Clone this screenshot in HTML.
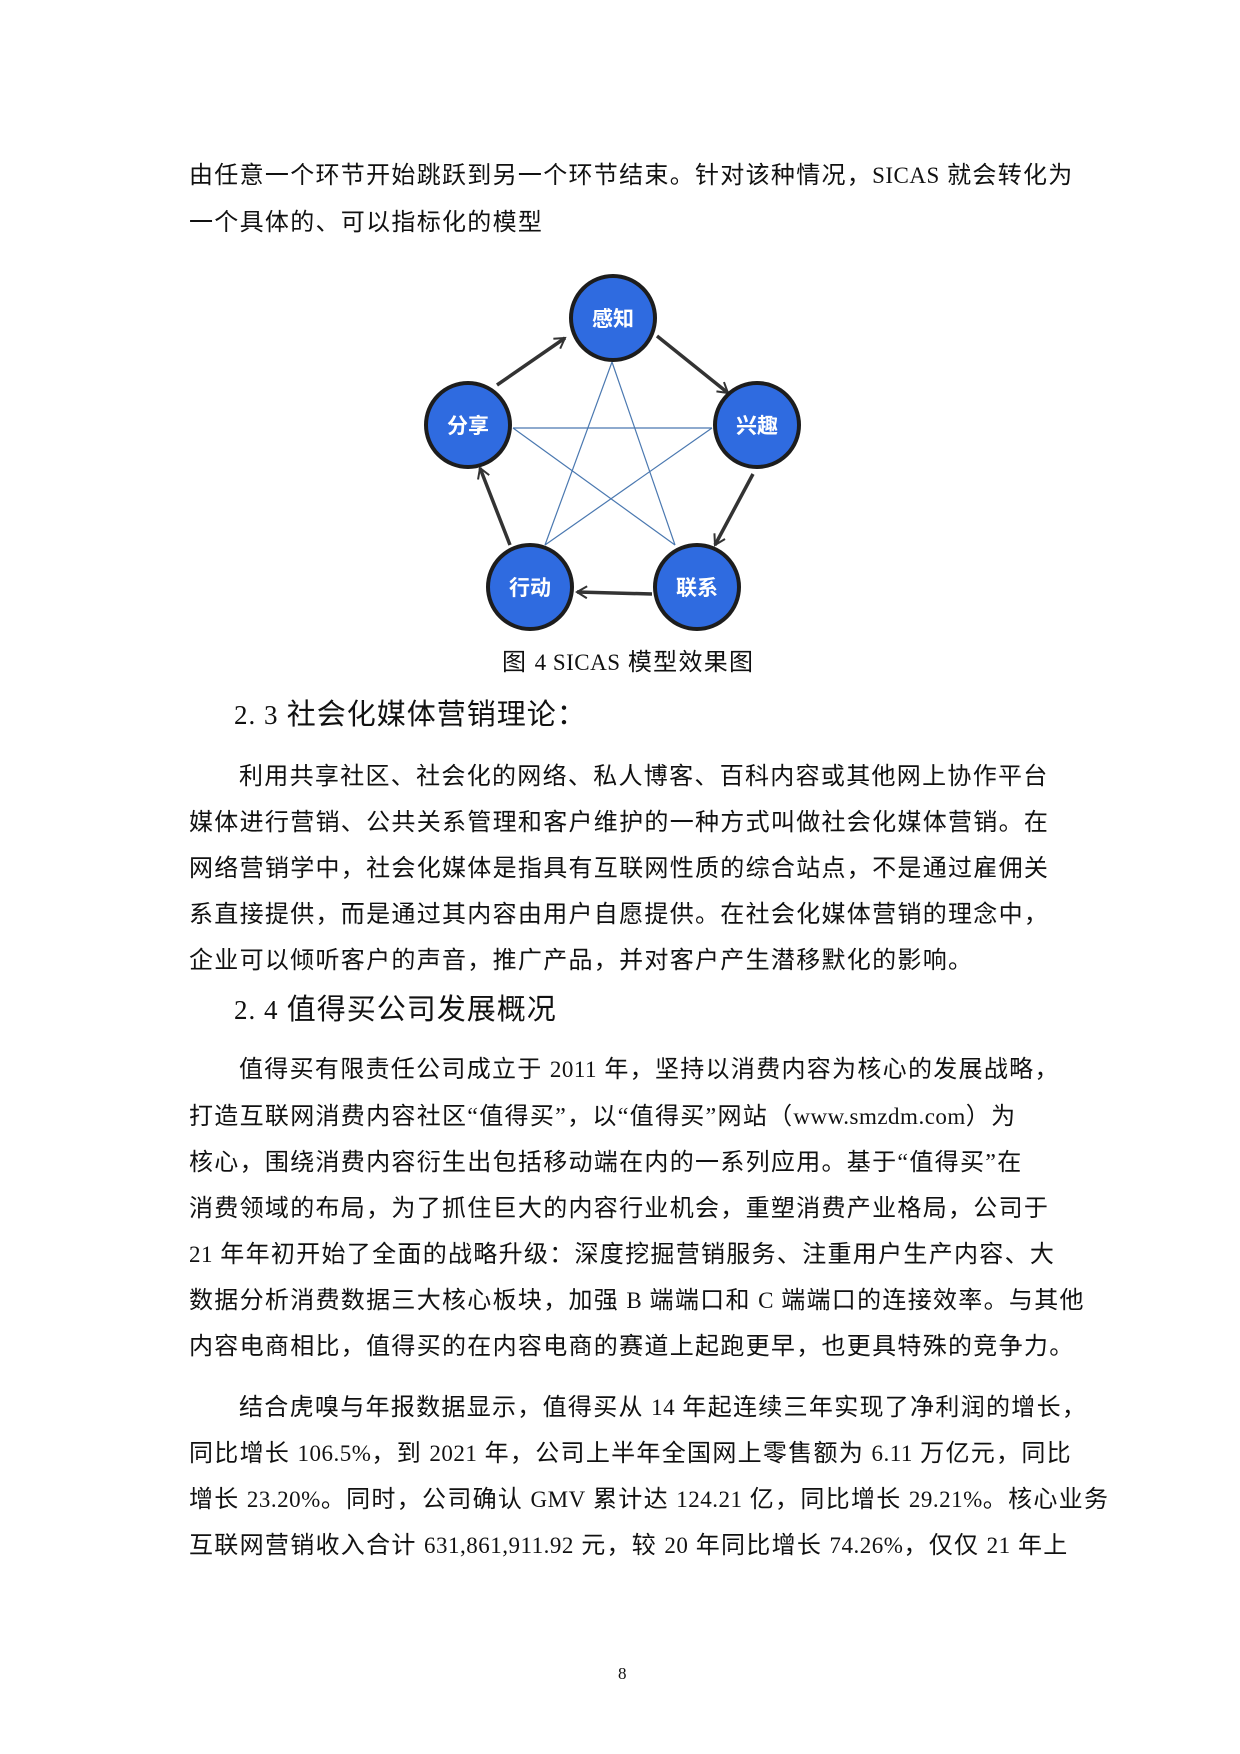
<!DOCTYPE html>
<html><head><meta charset="utf-8"><style>
body{margin:0;background:#fff;}
.pg{position:relative;width:1240px;height:1754px;background:#fff;overflow:hidden;font-family:"Liberation Serif","Noto Sans CJK SC",sans-serif;color:#111;}
.l{position:absolute;left:189px;font-size:24px;line-height:24px;white-space:nowrap;letter-spacing:1.3px;}
.h{position:absolute;left:234px;font-size:29px;line-height:30px;white-space:nowrap;letter-spacing:1px;}
.n{font-size:23px;letter-spacing:0.5px;}
</style></head><body><div class="pg">
<div class="l" style="top:164px">由任意一个环节开始跳跃到另一个环节结束。针对该种情况，<span class="n">SICAS</span> 就会转化为</div>
<div class="l" style="top:211px">一个具体的、可以指标化的模型</div>

<svg style="position:absolute;left:0;top:0" width="1240" height="700">
<defs><marker id="a" markerWidth="14" markerHeight="14" refX="11" refY="7" orient="auto" markerUnits="userSpaceOnUse"><path d="M1,1 L11,7 L1,13" fill="none" stroke="#333" stroke-width="2"/></marker></defs>
<g stroke="#4a78b0" stroke-width="1.2">
<line x1="612" y1="362" x2="545" y2="545"/><line x1="612" y1="362" x2="675" y2="545"/>
<line x1="513" y1="428" x2="712" y2="428"/><line x1="513" y1="428" x2="675" y2="545"/>
<line x1="712" y1="428" x2="545" y2="545"/>
</g>
<g stroke="#333" stroke-width="3.5" fill="none" marker-end="url(#a)">
<line x1="497" y1="385" x2="565" y2="338"/>
<line x1="657" y1="336" x2="728" y2="393"/>
<line x1="753" y1="474" x2="715" y2="545"/>
<line x1="652" y1="594" x2="577" y2="592"/>
<line x1="510" y1="545" x2="480" y2="468"/>
</g>
<g fill="#2f6be0" stroke="#1d1d1d" stroke-width="4">
<circle cx="613" cy="318" r="42"/><circle cx="757" cy="425" r="42"/><circle cx="468" cy="425" r="42"/>
<circle cx="530" cy="587" r="42"/><circle cx="697" cy="587" r="42"/>
</g>
<g fill="#fff" font-family="Noto Sans CJK SC,sans-serif" font-weight="bold" font-size="21" text-anchor="middle">
<text x="613" y="326">感知</text><text x="757" y="433">兴趣</text><text x="468" y="433">分享</text>
<text x="530" y="595">行动</text><text x="697" y="595">联系</text>
</g>
</svg>
<div class="l" style="top:651px;left:502px">图 <span class="n">4 SICAS</span> 模型效果图</div>

<div class="h" style="top:700px"><span style="font-size:27px">2. 3</span> 社会化媒体营销理论：</div>
<div class="l" style="top:765px;left:239px">利用共享社区、社会化的网络、私人博客、百科内容或其他网上协作平台</div>
<div class="l" style="top:811px">媒体进行营销、公共关系管理和客户维护的一种方式叫做社会化媒体营销。在</div>
<div class="l" style="top:857px">网络营销学中，社会化媒体是指具有互联网性质的综合站点，不是通过雇佣关</div>
<div class="l" style="top:903px">系直接提供，而是通过其内容由用户自愿提供。在社会化媒体营销的理念中，</div>
<div class="l" style="top:949px">企业可以倾听客户的声音，推广产品，并对客户产生潜移默化的影响。</div>
<div class="h" style="top:995px"><span style="font-size:27px">2. 4</span> 值得买公司发展概况</div>
<div class="l" style="top:1058px;left:239px">值得买有限责任公司成立于 <span class="n">2011</span> 年，坚持以消费内容为核心的发展战略，</div>
<div class="l" style="top:1105px">打造互联网消费内容社区“值得买”，以“值得买”网站（<span class="n">www.smzdm.com</span>）为</div>
<div class="l" style="top:1151px">核心，围绕消费内容衍生出包括移动端在内的一系列应用。基于“值得买”在</div>
<div class="l" style="top:1197px">消费领域的布局，为了抓住巨大的内容行业机会，重塑消费产业格局，公司于</div>
<div class="l" style="top:1243px"><span class="n">21</span> 年年初开始了全面的战略升级：深度挖掘营销服务、注重用户生产内容、大</div>
<div class="l" style="top:1289px">数据分析消费数据三大核心板块，加强 <span class="n">B</span> 端端口和 <span class="n">C</span> 端端口的连接效率。与其他</div>
<div class="l" style="top:1335px">内容电商相比，值得买的在内容电商的赛道上起跑更早，也更具特殊的竞争力。</div>
<div class="l" style="top:1396px;left:239px">结合虎嗅与年报数据显示，值得买从 <span class="n">14</span> 年起连续三年实现了净利润的增长，</div>
<div class="l" style="top:1442px">同比增长 <span class="n">106.5%</span>，到 <span class="n">2021</span> 年，公司上半年全国网上零售额为 <span class="n">6.11</span> 万亿元，同比</div>
<div class="l" style="top:1488px">增长 <span class="n">23.20%</span>。同时，公司确认 <span class="n">GMV</span> 累计达 <span class="n">124.21</span> 亿，同比增长 <span class="n">29.21%</span>。核心业务</div>
<div class="l" style="top:1534px">互联网营销收入合计 <span class="n">631,861,911.92</span> 元，较 <span class="n">20</span> 年同比增长 <span class="n">74.26%</span>，仅仅 <span class="n">21</span> 年上</div>
<div class="l" style="top:1662px;left:618px;font-size:17px">8</div>
</div></body></html>
